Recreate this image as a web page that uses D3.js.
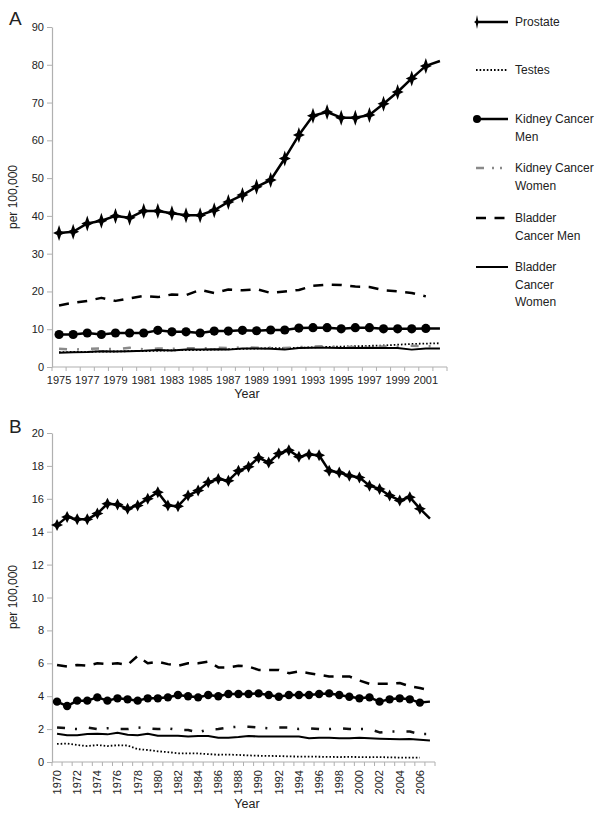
<!DOCTYPE html>
<html>
<head>
<meta charset="utf-8">
<script src="https://cdn.jsdelivr.net/npm/d3@7"></script>
<style>
  body { margin: 0; background: #fff; }
  text { font-family: "Liberation Sans", Arial, sans-serif; fill: #222; }
</style>
</head>
<body>
<svg id="chart" width="604" height="817"></svg>
<script>
// ---- data: panel A (1975-2002) ----
const yearsA = d3.range(1975, 2003);
const prostateA = [35.5, 35.8, 38.0, 38.7, 40.0, 39.5, 41.3, 41.3, 40.7, 40.2, 40.2, 41.5, 43.7, 45.5, 47.7, 49.5, 55.2, 61.4, 66.5, 67.5, 66.0, 66.0, 66.7, 69.7, 72.8, 76.4, 79.7, 81.0];
const testesA = [3.9, 4.0, 4.0, 4.1, 4.1, 4.2, 4.2, 4.3, 4.4, 4.5, 4.5, 4.6, 4.7, 4.8, 4.9, 5.0, 5.0, 5.1, 5.2, 5.3, 5.4, 5.5, 5.6, 5.7, 5.9, 6.1, 6.2, 6.3];
const kidneyMenA = [8.6, 8.6, 9.0, 8.6, 9.0, 9.0, 9.0, 9.7, 9.3, 9.3, 9.0, 9.5, 9.5, 9.7, 9.6, 9.8, 9.8, 10.3, 10.4, 10.4, 10.1, 10.4, 10.4, 10.1, 10.1, 10.1, 10.2, 10.2];
const kidneyWomenA = [4.8, 4.6, 4.8, 4.9, 4.7, 5.1, 4.7, 4.9, 4.8, 5.0, 4.9, 5.1, 5.0, 5.2, 5.1, 5.1, 5.0, 5.3, 5.4, 5.5, 5.3, 5.3, 5.4, 5.4, 5.5, 5.6, 5.5, 5.6];
const bladderMenA = [16.3, 17.0, 17.5, 18.3, 17.5, 18.2, 18.8, 18.5, 19.2, 19.0, 20.4, 19.6, 20.5, 20.3, 20.6, 19.6, 20.0, 20.4, 21.5, 21.8, 21.7, 21.3, 21.2, 20.3, 20.0, 19.6, 18.7, null];
const bladderWomenA = [3.8, 3.9, 4.0, 4.2, 4.1, 4.2, 4.3, 4.5, 4.4, 4.6, 4.6, 4.7, 4.6, 4.9, 4.9, 4.8, 4.6, 5.0, 5.1, 5.1, 5.0, 5.0, 5.1, 5.0, 5.0, 4.6, 4.9, 4.9];
const yTicksA = d3.range(0, 91, 10);

// ---- data: panel B (1970-2007) ----
const yearsB = d3.range(1970, 2008);
const prostateB = [14.4, 14.9, 14.75, 14.75, 15.1, 15.7, 15.65, 15.4, 15.6, 16.0, 16.4, 15.6, 15.55, 16.2, 16.5, 17.0, 17.2, 17.1, 17.7, 17.95, 18.5, 18.2, 18.75, 18.95, 18.55, 18.7, 18.65, 17.7, 17.6, 17.4, 17.3, 16.8, 16.6, 16.2, 15.9, 16.1, 15.4, 14.8];
const testesB = [1.1, 1.12, 1.03, 0.97, 1.03, 0.97, 1.02, 1.0, 0.78, 0.73, 0.65, 0.6, 0.53, 0.53, 0.52, 0.48, 0.44, 0.45, 0.43, 0.4, 0.38, 0.37, 0.36, 0.34, 0.33, 0.33, 0.32, 0.31, 0.3, 0.31, 0.3, 0.29, 0.3, 0.28, 0.27, 0.27, 0.27, null];
const kidneyMenB = [3.67, 3.4, 3.73, 3.73, 3.93, 3.73, 3.87, 3.81, 3.73, 3.87, 3.87, 3.93, 4.07, 4.0, 3.93, 4.07, 4.0, 4.13, 4.13, 4.13, 4.17, 4.07, 3.97, 4.07, 4.07, 4.07, 4.13, 4.17, 4.07, 3.97, 3.87, 3.93, 3.67, 3.81, 3.87, 3.81, 3.61, 3.67];
const kidneyWomenB = [2.1, 2.05, 2.0, 2.1, 2.0, 2.05, 2.0, 2.0, 2.1, 2.05, 2.0, 2.05, 1.95, 1.95, 1.8, 1.98, 2.0, 2.1, 2.15, 2.15, 2.1, 2.05, 2.1, 2.1, 2.0, 2.05, 2.0, 2.0, 2.05, 2.0, 2.0, 2.0, 1.8, 1.85, 1.85, 1.85, 1.7, 1.7];
const bladderMenB = [5.9, 5.8, 5.9, 5.85, 6.0, 5.95, 6.0, 5.9, 6.45, 6.0, 6.1, 5.95, 5.85, 6.0, 6.0, 6.1, 5.75, 5.75, 5.85, 5.8, 5.6, 5.6, 5.6, 5.4, 5.5, 5.4, 5.3, 5.2, 5.2, 5.2, 4.95, 4.75, 4.75, 4.75, 4.8, 4.6, 4.5, 4.35];
const bladderWomenB = [1.72, 1.62, 1.62, 1.7, 1.72, 1.68, 1.78, 1.66, 1.62, 1.72, 1.6, 1.6, 1.6, 1.55, 1.58, 1.58, 1.48, 1.48, 1.52, 1.58, 1.55, 1.55, 1.55, 1.55, 1.55, 1.45, 1.48, 1.48, 1.45, 1.45, 1.48, 1.45, 1.42, 1.4, 1.38, 1.4, 1.35, 1.3];
const yTicksB = d3.range(0, 21, 2);

const seriesNames = ["Prostate", "Testes", "Kidney Cancer Men", "Kidney Cancer Women", "Bladder Cancer Men", "Bladder Cancer Women"];

const svg = d3.select("#chart");

// concave four-point star used for the prostate series
function starPath(w, h, k) {
  return `M0,${-h}L${k},${-k}L${w},0L${k},${k}L0,${h}L${-k},${k}L${-w},0L${-k},${-k}Z`;
}

function styleFor(name, panel) {
  switch (name) {
    case "Prostate": return { stroke: "#000", width: 2.5, dash: null, marker: "star" };
    case "Testes": return { stroke: "#000", width: 1.8, dash: "1.6,2", marker: null };
    case "Kidney Cancer Men": return { stroke: "#000", width: 2.5, dash: null, marker: "circle" };
    case "Kidney Cancer Women": return { stroke: panel === "A" ? "#8a8a8a" : "#111", width: 2.5, dash: "8,10,2,12", marker: null };
    case "Bladder Cancer Men": return { stroke: "#000", width: 2.5, dash: "10,8.5", marker: null };
    default: return { stroke: "#000", width: 2, dash: null, marker: null };
  }
}

function drawPanel(cfg) {
  const x = d3.scaleBand().domain(cfg.years).range([cfg.left, cfg.right]);
  const y = d3.scaleLinear().domain([0, cfg.yMax]).range([cfg.bottom, cfg.top]);
  const cx = yr => x(yr) + x.bandwidth() / 2;

  // y axis
  const gy = svg.append("g")
    .attr("transform", `translate(${cfg.left},0)`)
    .call(d3.axisLeft(y).tickValues(cfg.yTicks).tickSize(5).tickSizeOuter(0));
  gy.select(".domain").attr("stroke", "#b0b0b0").attr("stroke-width", 1.2);
  gy.selectAll(".tick line").attr("stroke", "#b0b0b0");
  gy.selectAll(".tick text").attr("font-size", 11).attr("x", -8)
    .style("font-family", "'Liberation Sans', Arial, sans-serif").attr("fill", "#222");

  // x axis: labels at category centres, ticks at category boundaries
  const labelYears = cfg.years.filter((d, i) => i % 2 === 0);
  const gx = svg.append("g")
    .attr("transform", `translate(0,${cfg.bottom})`)
    .call(d3.axisBottom(x).tickValues(labelYears).tickSize(0).tickPadding(cfg.rotate ? 8 : 9));
  gx.select(".domain").remove();
  gx.selectAll(".tick text").attr("font-size", 11)
    .style("font-family", "'Liberation Sans', Arial, sans-serif").attr("fill", "#222");
  if (cfg.rotate) {
    gx.selectAll(".tick text")
      .attr("transform", "rotate(-90)")
      .attr("text-anchor", "end")
      .attr("x", -8).attr("y", 0).attr("dy", "0.35em");
  }
  svg.append("line")
    .attr("x1", cfg.left).attr("x2", cfg.right)
    .attr("y1", cfg.bottom).attr("y2", cfg.bottom)
    .attr("stroke", "#b0b0b0").attr("stroke-width", 1.2);
  svg.append("g").selectAll("line")
    .data(cfg.years.concat(["end"]))
    .join("line")
    .attr("x1", d => d === "end" ? cfg.right : x(d))
    .attr("x2", d => d === "end" ? cfg.right : x(d))
    .attr("y1", cfg.bottom).attr("y2", cfg.bottom + 4)
    .attr("stroke", "#b0b0b0");

  // axis titles
  svg.append("text")
    .attr("transform", `translate(${cfg.yTitleX},${cfg.yTitleY}) rotate(-90)`)
    .attr("text-anchor", "middle").attr("font-size", 12)
    .text("per 100,000");
  svg.append("text")
    .attr("x", cfg.xTitleX).attr("y", cfg.xTitleY)
    .attr("text-anchor", "middle").attr("font-size", 12.5)
    .text("Year");
  svg.append("text")
    .attr("x", 9).attr("y", cfg.panelY)
    .attr("font-size", 19)
    .text(cfg.panel);

  // series
  const line = d3.line()
    .defined(d => d.v != null)
    .x(d => cx(d.year))
    .y(d => y(d.v));

  cfg.series.forEach((vals, i) => {
    const name = seriesNames[i];
    const st = styleFor(name, cfg.panel);
    const pts = cfg.years.map((yr, j) => ({ year: yr, v: vals[j] }));
    svg.append("path")
      .datum(pts)
      .attr("d", line)
      .attr("fill", "none")
      .attr("stroke", st.stroke)
      .attr("stroke-width", st.width)
      .attr("stroke-dasharray", st.dash)
      .attr("stroke-linejoin", "round");

    // markers on every point except the last one
    const marked = pts.filter(d => d.v != null).slice(0, -1);
    if (st.marker === "circle") {
      svg.append("g").selectAll("circle")
        .data(marked).join("circle")
        .attr("cx", d => cx(d.year)).attr("cy", d => y(d.v))
        .attr("r", cfg.circleR).attr("fill", "#000");
    } else if (st.marker === "star") {
      svg.append("g").selectAll("path")
        .data(marked).join("path")
        .attr("d", starPath(cfg.starW, cfg.starH, 2))
        .attr("transform", d => `translate(${cx(d.year)},${y(d.v)})`)
        .attr("fill", "#000");
    }
  });
}

drawPanel({
  panel: "A", panelY: 25,
  years: yearsA, yMax: 90, yTicks: yTicksA,
  left: 52, right: 447, top: 27, bottom: 367,
  rotate: false,
  yTitleX: 17, yTitleY: 197, xTitleX: 247, xTitleY: 398,
  circleR: 4.6, starW: 6, starH: 8,
  series: [prostateA, testesA, kidneyMenA, kidneyWomenA, bladderMenA, bladderWomenA]
});

drawPanel({
  panel: "B", panelY: 433,
  years: yearsB, yMax: 20, yTicks: yTicksB,
  left: 52, right: 435, top: 433, bottom: 762,
  rotate: true,
  yTitleX: 17, yTitleY: 597, xTitleX: 247, xTitleY: 808,
  circleR: 4.2, starW: 6, starH: 6,
  series: [prostateB, testesB, kidneyMenB, kidneyWomenB, bladderMenB, bladderWomenB]
});

// ---- legend ----
const legendLines = [
  ["Prostate"],
  ["Testes"],
  ["Kidney Cancer", "Men"],
  ["Kidney Cancer", "Women"],
  ["Bladder", "Cancer Men"],
  ["Bladder", "Cancer", "Women"]
];
const legendY = [22, 70, 119, 168, 218, 267];
const legend = svg.append("g");
seriesNames.forEach((name, i) => {
  const st = styleFor(name, "A");
  const ly = legendY[i];
  legend.append("line")
    .attr("x1", 476).attr("x2", 508)
    .attr("y1", ly).attr("y2", ly)
    .attr("stroke", st.stroke)
    .attr("stroke-width", st.width)
    .attr("stroke-dasharray", name === "Kidney Cancer Women" ? "8,8,2,6,2,10" : st.dash);
  if (st.marker === "circle") {
    legend.append("circle").attr("cx", 477).attr("cy", ly).attr("r", 4).attr("fill", "#000");
  } else if (st.marker === "star") {
    legend.append("path").attr("d", starPath(3, 7, 1.2))
      .attr("transform", `translate(477,${ly})`).attr("fill", "#000");
  }
  legendLines[i].forEach((t, k) => {
    legend.append("text")
      .attr("x", 515).attr("y", ly + k * 17.5)
      .attr("dy", "0.35em").attr("font-size", 12)
      .text(t);
  });
});
</script>
</body>
</html>
